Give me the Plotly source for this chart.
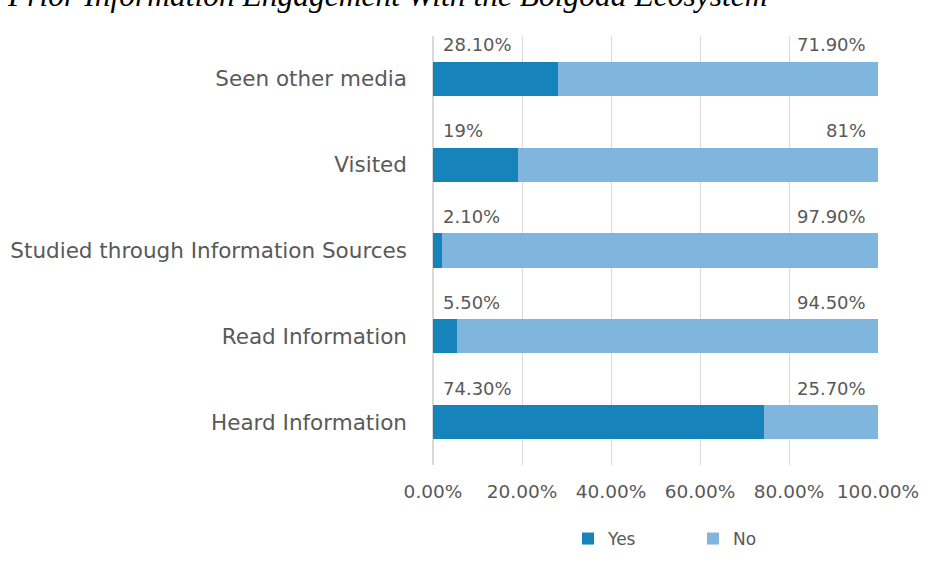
import plotly.graph_objects as go

categories = ["Heard Information", "Read Information", "Studied through Information Sources",
              "Visited", "Seen other media"]
yes_values = [74.3, 5.5, 2.1, 19.0, 28.1]
no_values = [25.7, 94.5, 97.9, 81.0, 71.9]
yes_labels = ["74.30%", "5.50%", "2.10%", "19%", "28.10%"]
no_labels = ["25.70%", "94.50%", "97.90%", "81%", "71.90%"]
tick_vals = [0, 20, 40, 60, 80, 100]
tick_text = ["0.00%", "20.00%", "40.00%", "60.00%", "80.00%", "100.00%"]
title_text = "Prior Information Engagement With the Bolgoda Ecosystem"

YES_COLOR = "#1683ba"
NO_COLOR = "#80b6de"
GRAY = "#595959"
FONT = "DejaVu Sans"

W, H = 942, 568
L, R, T, B = 433, 64, 36, 103
pw, ph = W - L - R, H - T - B

fig = go.Figure()
fig.add_trace(go.Bar(y=categories, x=yes_values, name="Yes", orientation="h",
                     marker=dict(color=YES_COLOR, line=dict(width=0))))
fig.add_trace(go.Bar(y=categories, x=no_values, name="No", orientation="h",
                     marker=dict(color=NO_COLOR, line=dict(width=0))))

annotations = []
for cat, lab in zip(categories, yes_labels):
    annotations.append(dict(x=0, y=cat, xref="x", yref="y", text=lab, showarrow=False,
                            xanchor="left", yanchor="middle", xshift=8, yshift=34,
                            font=dict(family=FONT, size=18, color=GRAY)))
for cat, lab in zip(categories, no_labels):
    annotations.append(dict(x=100, y=cat, xref="x", yref="y", text=lab, showarrow=False,
                            xanchor="right", yanchor="middle", xshift=-10, yshift=34,
                            font=dict(family=FONT, size=18, color=GRAY)))
# title (cropped at top of image, as in the reference)
annotations.append(dict(x=(5 - L) / pw, y=(H - B - 15) / ph, xref="paper", yref="paper",
                        text="<i>" + title_text + "</i>", showarrow=False,
                        xanchor="left", yanchor="bottom",
                        font=dict(family="Liberation Serif", size=31.5, color="#000000")))

fig.update_layout(
    width=W, height=H,
    margin=dict(l=L, r=R, t=T, b=B, pad=0, autoexpand=False),
    barmode="stack",
    bargap=0.6,
    plot_bgcolor="white",
    paper_bgcolor="white",
    showlegend=True,
    legend=dict(orientation="h", xref="container", yref="container",
                x=(568) / W, y=1 - 521 / H, xanchor="left", yanchor="top",
                font=dict(family=FONT, size=17, color=GRAY),
                entrywidth=80, itemwidth=30, traceorder="normal"),
    annotations=annotations,
)
fig.update_xaxes(range=[0, 100], tickvals=tick_vals, ticktext=tick_text,
                 showgrid=True, gridcolor="#d9d9d9", gridwidth=1,
                 zeroline=True, zerolinecolor="#d9d9d9", showline=False,
                 tickfont=dict(family=FONT, size=18.5, color=GRAY),
                 ticks="", ticklabelstandoff=13, fixedrange=True, automargin=False)
fig.update_yaxes(categoryorder="array", categoryarray=categories,
                 showgrid=False, zeroline=False, showline=False, ticks="",
                 tickfont=dict(family=FONT, size=21.5, color=GRAY),
                 ticklabelstandoff=25, range=[-0.5, 4.5], fixedrange=True, automargin=False)

fig.write_html("out.html", config={"displayModeBar": False})
